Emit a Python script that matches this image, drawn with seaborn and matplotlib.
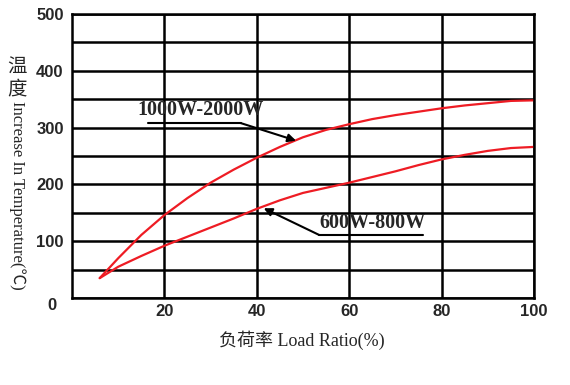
import matplotlib
matplotlib.use("Agg")
import matplotlib.pyplot as plt
import seaborn as sns
import pandas as pd
from matplotlib.ticker import MultipleLocator

# ---- data ----
load_hi = [6, 10, 15, 20, 25, 30, 35, 40, 45, 50, 55, 60, 65, 70, 75, 80, 85, 90, 95, 100, 101]
temp_hi = [35, 70, 111, 146, 176, 203, 226, 247, 266, 283, 296, 306, 315, 322, 328, 334, 339, 343, 347, 348, 346]
load_lo = [6, 10, 15, 20, 25, 30, 35, 40, 45, 50, 55, 60, 65, 70, 75, 80, 85, 90, 95, 100]
temp_lo = [35, 55, 74, 92, 108, 124, 140, 157, 172, 185, 194, 203, 213, 223, 234, 244, 252, 259, 264, 266]
series_names = ["1000W-2000W", "600W-800W"]
x_ticks = [20, 40, 60, 80, 100]
y_ticks = [100, 200, 300, 400, 500]

df = pd.concat([
    pd.DataFrame({"load": load_hi, "temp": temp_hi, "series": series_names[0]}),
    pd.DataFrame({"load": load_lo, "temp": temp_lo, "series": series_names[1]}),
])

sns.set_style("white")
plt.rcParams["font.family"] = ["Liberation Serif", "Noto Sans CJK SC", "DejaVu Sans"]

tick_font = "Liberation Sans"

fig = plt.figure(figsize=(5.7, 3.85), dpi=100)
ax = fig.add_axes([72/570, 1-298/385, (534-72)/570, (298-14)/385])

sns.lineplot(data=df, x="load", y="temp", hue="series", palette=["#ee1c24", "#ee1c24"],
             sort=False, estimator=None, linewidth=1.6, legend=False, ax=ax)

ax.set_xlim(0, 100)
ax.set_ylim(0, 500)
ax.xaxis.set_major_locator(MultipleLocator(20))
ax.yaxis.set_major_locator(MultipleLocator(100))
ax.yaxis.set_minor_locator(MultipleLocator(50))
ax.grid(True, which="major", axis="both", color="black", linewidth=1.8)
ax.grid(True, which="minor", axis="y", color="black", linewidth=1.8)
ax.set_axisbelow(True)
for s in ax.spines.values():
    s.set_visible(True)
    s.set_color("black")
    s.set_linewidth(1.8)

ax.set_xticks(x_ticks)
ax.set_xticklabels([str(t) for t in x_ticks], fontweight="heavy", fontfamily=tick_font, fontsize=12)
ax.set_yticks(y_ticks)
ax.set_yticklabels([str(t) for t in y_ticks], fontweight="heavy", fontfamily=tick_font, fontsize=12)
ax.tick_params(axis="both", which="both", length=0, pad=6)
ax.tick_params(axis="x", pad=4)
ax.set_xlabel("")
ax.set_ylabel("")

# corner "0"
fig.text(52/570, 1-306/385, "0", fontweight="heavy", fontfamily=tick_font, fontsize=12,
         ha="center", va="center")

# axis labels
fig.text(302/570, 1-340/385, "负荷率 Load Ratio(%)", ha="center", va="center", fontsize=13,
         family=["Liberation Serif", "Noto Sans CJK SC"])
fig.text(17/570, 1-67/385, "温", ha="center", va="center", fontsize=14, family=["Noto Sans CJK SC"])
fig.text(17/570, 1-89/385, "度", ha="center", va="center", fontsize=14, family=["Noto Sans CJK SC"])
fig.text(17/570, 1-101/385, "Increase In Temperature(℃)", ha="center", va="top", rotation=270,
         fontsize=12, family=["Liberation Serif", "Noto Sans CJK SC", "DejaVu Sans"])

# annotations
lbl_font = dict(fontweight="bold", fontfamily="Liberation Serif", fontsize=14.5)
ax.text(27.8, 313, series_names[0], ha="center", va="bottom", **lbl_font)
ax.plot([16.5, 36.5], [308, 308], color="black", linewidth=1.5)
ax.annotate("", xy=(48.5, 277), xytext=(36.5, 308),
            arrowprops=dict(arrowstyle="-|>", color="black", lw=1.5, mutation_scale=12,
                            shrinkA=0, shrinkB=0))
ax.text(65.0, 114, series_names[1], ha="center", va="bottom", **lbl_font)
ax.plot([53.5, 76], [111, 111], color="black", linewidth=1.5)
ax.annotate("", xy=(41.5, 158), xytext=(53.5, 111),
            arrowprops=dict(arrowstyle="-|>", color="black", lw=1.5, mutation_scale=12,
                            shrinkA=0, shrinkB=0))

fig.savefig("out.png", dpi=100)
